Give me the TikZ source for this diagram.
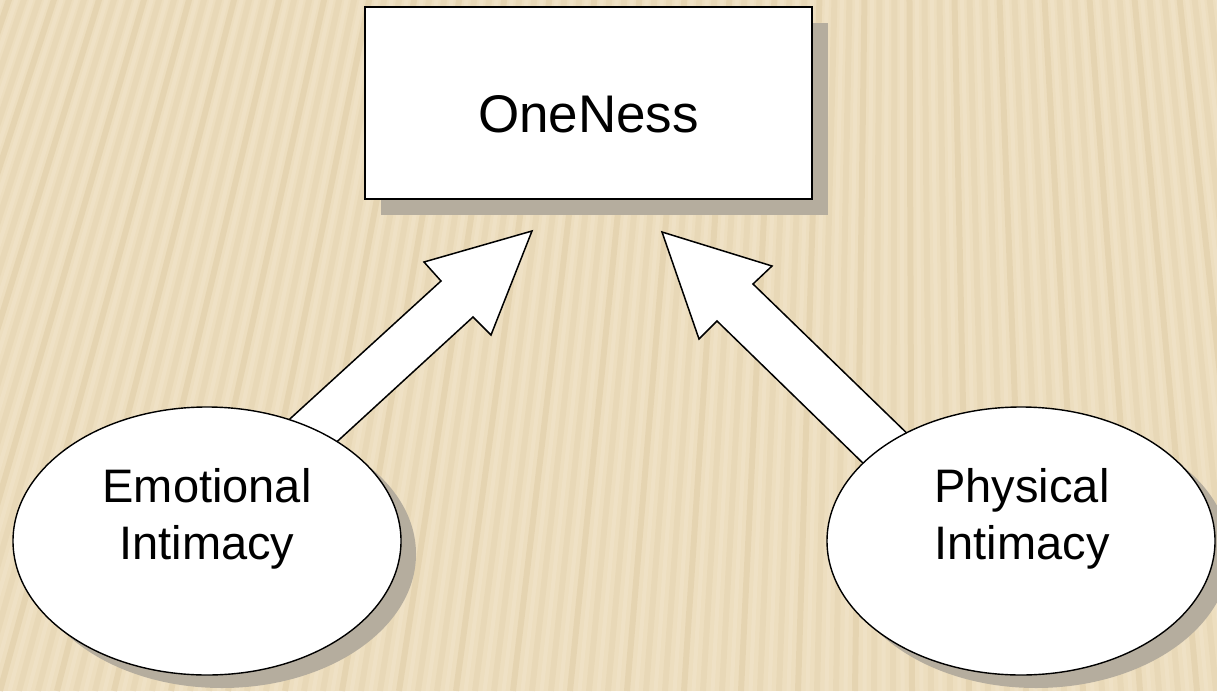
\documentclass[tikz,border=0pt]{standalone}
\usepackage{fontspec}
\setmainfont{Liberation Sans}
\usetikzlibrary{shapes.geometric,shadows}
\definecolor{bgc}{HTML}{EDDEBF}
\definecolor{stripec}{HTML}{D8C398}
\definecolor{lightc}{HTML}{F4E9D2}
\definecolor{shadc}{HTML}{B5AD9E}
\tikzset{
  boxsty/.style={draw=black, line width=1.8pt, fill=white, rectangle, minimum width=447pt, minimum height=192pt, inner sep=0pt,
    drop shadow={shadow xshift=16pt, shadow yshift=-16pt, fill=shadc, opacity=1}},
  ellsty/.style={draw=black, line width=1.4pt, fill=white, ellipse, minimum width=388pt, minimum height=268pt, inner sep=0pt,
    drop shadow={shadow xshift=15pt, shadow yshift=-13pt, fill=shadc, opacity=1}},
  bigtxt/.style={font=\fontsize{53}{60}\selectfont, inner sep=0pt},
  ltxt/.style={font=\fontsize{47}{57}\selectfont, align=center, inner sep=0pt},
  blockarrow/.style={draw=black, line width=1.5pt, fill=white, line join=miter}
}
\begin{document}
\begin{tikzpicture}[x=1pt,y=-1pt]
\useasboundingbox (0,0) rectangle (1217,691);
\fill[bgc] (0,0) rectangle (1217,691);
\begin{scope}
\clip (0,0) rectangle (1217,691);
\foreach \i in {-45,...,90}{
  \pgfmathsetmacro{\bx}{\i*19}
  \pgfmathsetmacro{\op}{mod(\i,3)==0 ? 0.35 : 0.2}
  \draw[stripec, line width=6pt, opacity=\op] (\bx,691) -- (900,-2600);
  \draw[lightc, line width=4pt, opacity=0.35] (\bx+9.5,691) -- (900,-2600);
}
\end{scope}
% block arrows
\draw[blockarrow] (246,459) -- (441,281) -- (424,262) -- (532,231) -- (491,335) -- (473,317) -- (293,482) -- cycle;
\draw[blockarrow] (950,475) -- (753,284) -- (772,266) -- (662,232) -- (699,339) -- (717,321) -- (906,505) -- cycle;
% nodes
\node[ellsty] (emo) at (207,541) {};
\node[ellsty] (phy) at (1021,541) {};
\node[boxsty] (one) at (588.5,103) {};
\node[bigtxt] (oneT) at (588.5,114) {OneNess};
\node[ltxt] (emoT) at (207,519) {Emotional\\Intimacy};
\node[ltxt] (phyT) at (1022,519) {Physical\\Intimacy};
\end{tikzpicture}
\end{document}
